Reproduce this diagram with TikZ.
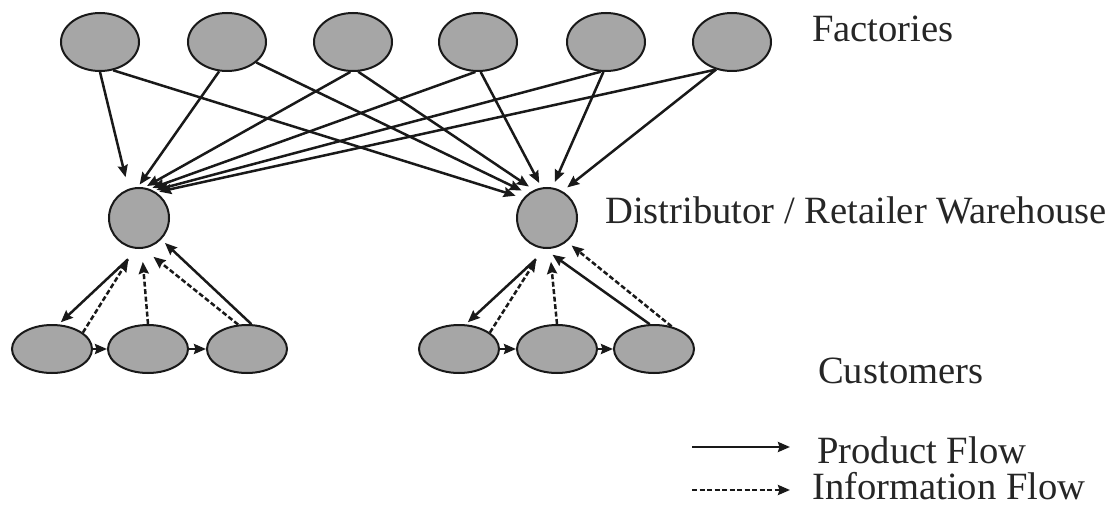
\documentclass[tikz,border=0pt]{standalone}
\usepackage{fontspec}
\setmainfont{Liberation Serif}
\usetikzlibrary{arrows.meta,shapes.geometric}
\definecolor{nodefill}{RGB}{166,166,166}
\definecolor{edgeink}{RGB}{25,25,25}
\begin{document}
\begin{tikzpicture}[x=1pt,y=-1pt,
  site/.style={ellipse, draw=edgeink, fill=nodefill, line width=2pt, inner sep=0pt},
  factory/.style={site, minimum width=78pt, minimum height=58pt},
  depot/.style={circle, draw=edgeink, fill=nodefill, line width=2pt, inner sep=0pt, minimum size=60pt},
  customer/.style={site, minimum width=80pt, minimum height=48pt},
  flow/.style={draw=edgeink, line width=2.5pt, -{Stealth[length=12pt,width=10pt,inset=1.5pt]}},
  product/.style={flow},
  info/.style={flow, dash pattern=on 5pt off 2.5pt},
  caption/.style={anchor=base west, inner sep=0pt, font=\fontsize{38.6pt}{40pt}\selectfont, text=black!85}
]
\useasboundingbox (0,0) rectangle (1117,508);

% factories
\node[factory] (f1) at (100,42) {};
\node[factory] (f2) at (227,42) {};
\node[factory] (f3) at (353,42) {};
\node[factory] (f4) at (478,42) {};
\node[factory] (f5) at (606,42) {};
\node[factory] (f6) at (732,42) {};

% distributor / retailer warehouses
\node[depot] (dL) at (139,218) {};
\node[depot] (dR) at (547,218) {};

% customers
\node[customer] (c1) at (52,349) {};
\node[customer] (c2) at (148,349) {};
\node[customer] (c3) at (247,349) {};
\node[customer] (c4) at (459,349) {};
\node[customer] (c5) at (557,349) {};
\node[customer] (c6) at (654,349) {};

% factory -> warehouse shipments
\draw[product, shorten >=12pt] (f1.south) -- (dL.110);
\draw[product, shorten >=8pt] (f1.-65) -- (dR.140);
\draw[product, shorten >=3pt] (f2.-105) -- (dL.92);
\draw[product, shorten >=7pt] (f2.-35) -- (dR.128);
\draw[product, shorten >=3pt] (f3.-95) -- (dL.80);
\draw[product, shorten >=6pt] (f3.-80) -- (dR.115);
\draw[product, shorten >=3pt] (f4.-95) -- (dL.70);
\draw[product, shorten >=5pt] (f4.-85) -- (dR.100);
\draw[product, shorten >=3pt] (f5.-100) -- (dL.62);
\draw[product, shorten >=6pt] (f5.-95) -- (dR.80);
\draw[product, shorten >=3pt] (f6.-120) -- (dL.56);
\draw[product, shorten >=6pt] (f6.-120) -- (dR.60);

% left customer group
\draw[product, shorten <=15pt, shorten >=3pt] (dL.-90) -- (c1.75);
\draw[info, shorten >=13pt] (c1.28) -- (dL.-97);
\draw[info, shorten >=13pt] (c2.north) -- (dL.-85);
\draw[info, shorten >=13pt] (c3.110) -- (dL.-82);
\draw[product, shorten >=5pt] (c3.80) -- (dL.-44);
\draw[product] (c1.east) -- (c2.west);
\draw[product] (c2.east) -- (c3.west);

% right customer group
\draw[product, shorten <=15pt, shorten >=3pt] (dR.-90) -- (c4.75);
\draw[info, shorten >=13pt] (c4.28) -- (dR.-97);
\draw[info, shorten >=13pt] (c5.north) -- (dR.-85);
\draw[product, shorten >=10pt] (c6.100) -- (dR.-95);
\draw[info, shorten >=6pt] (c6.52) -- (dR.-50);
\draw[product] (c4.east) -- (c5.west);
\draw[product] (c5.east) -- (c6.west);

% tier labels
\node[caption] (tf) at (812,42) {Factories};
\node[caption] (td) at (605,223) {Distributor / Retailer Warehouse};
\node[caption] (tc) at (818,383) {Customers};

% legend
\coordinate (pa) at (692,447);
\coordinate (pb) at (790,447);
\coordinate (ia) at (692,490);
\coordinate (ib) at (790,490);
\draw[product] (pa) -- (pb);
\draw[info] (ia) -- (ib);
\node[caption] (tp) at (817,463) {Product Flow};
\node[caption] (ti) at (812,499) {Information Flow};
\end{tikzpicture}
\end{document}
